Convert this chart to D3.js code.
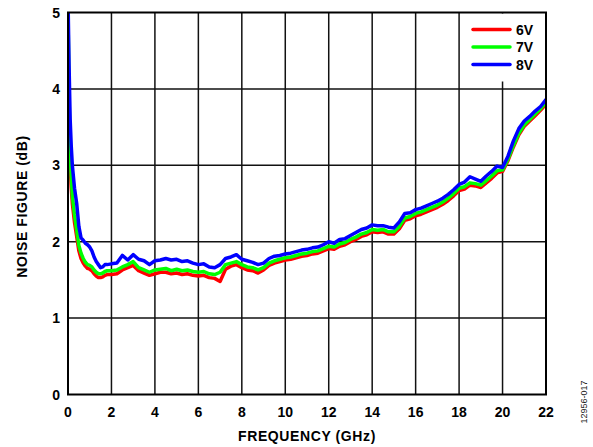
<!DOCTYPE html>
<html>
<head>
<meta charset="utf-8">
<script src="https://cdn.jsdelivr.net/npm/d3@7"></script>
<style>
  html, body { margin: 0; padding: 0; background: #fff; }
  svg { display: block; font-family: Arial, "Liberation Sans", sans-serif; }
</style>
</head>
<body>
<div id="chart"></div>
<script>
//DATA
const freqGHz = [
    0, 0.05, 0.1, 0.15, 0.2, 0.3, 0.4, 0.5, 0.6, 0.7, 0.8, 0.9, 1.0, 1.1, 1.2, 1.3, 1.4, 1.5, 1.6, 1.7, 1.8,
    2.0, 2.25, 2.5, 2.75, 3.0, 3.25, 3.5, 3.75, 4.0, 4.25, 4.5, 4.75, 5.0, 5.25, 5.5, 5.75,
    6.0, 6.25, 6.5, 6.75, 7.0, 7.25, 7.5, 7.75, 8.0, 8.25, 8.5, 8.75, 9.0, 9.25, 9.5, 9.75,
    10.0, 10.25, 10.5, 10.75, 11.0, 11.25, 11.5, 11.75, 12.0, 12.25, 12.5, 12.75, 13.0, 13.25, 13.5, 13.75,
    14.0, 14.25, 14.5, 14.75, 15.0, 15.25, 15.5, 15.75, 16.0, 16.25, 16.5, 16.75, 17.0, 17.25, 17.5, 17.75,
    18.0, 18.25, 18.5, 18.75, 19.0, 19.25, 19.5, 19.75, 20.0, 20.25, 20.5, 20.75, 21.0, 21.25, 21.5, 21.75, 22.0
];

const nf6V = [
    4.4, 3.5, 3.0, 2.7, 2.5, 2.25, 2.07, 1.88, 1.78, 1.72, 1.68, 1.65, 1.64, 1.62, 1.58, 1.55, 1.53, 1.53, 1.54, 1.56, 1.57,
    1.57, 1.58, 1.63, 1.66, 1.69, 1.62, 1.59, 1.56, 1.58, 1.60, 1.60, 1.58, 1.59, 1.57, 1.58, 1.56,
    1.55, 1.56, 1.53, 1.52, 1.48, 1.64, 1.68, 1.70, 1.66, 1.63, 1.62, 1.59, 1.63, 1.69, 1.72, 1.74,
    1.76, 1.77, 1.79, 1.81, 1.82, 1.84, 1.85, 1.88, 1.91, 1.90, 1.94, 1.96, 2.00, 2.03, 2.07, 2.09,
    2.13, 2.12, 2.13, 2.10, 2.10, 2.17, 2.28, 2.30, 2.34, 2.36, 2.39, 2.42, 2.45, 2.49, 2.54, 2.60,
    2.67, 2.69, 2.74, 2.73, 2.71, 2.77, 2.83, 2.90, 2.92, 3.06, 3.24, 3.40, 3.51, 3.58, 3.65, 3.72, 3.80
];

const nf7V = [
    5.0, 3.9, 3.15, 2.85, 2.6, 2.35, 2.15, 1.95, 1.85, 1.78, 1.73, 1.70, 1.69, 1.67, 1.63, 1.60, 1.58, 1.58, 1.59, 1.61, 1.62,
    1.62, 1.63, 1.67, 1.70, 1.74, 1.66, 1.63, 1.60, 1.63, 1.64, 1.65, 1.62, 1.64, 1.62, 1.63, 1.61,
    1.60, 1.61, 1.58, 1.57, 1.60, 1.70, 1.72, 1.74, 1.70, 1.67, 1.66, 1.63, 1.66, 1.72, 1.75, 1.77,
    1.79, 1.80, 1.82, 1.84, 1.85, 1.87, 1.88, 1.91, 1.94, 1.93, 1.97, 1.99, 2.03, 2.06, 2.10, 2.12,
    2.16, 2.15, 2.16, 2.13, 2.13, 2.20, 2.31, 2.33, 2.37, 2.39, 2.42, 2.45, 2.48, 2.52, 2.57, 2.63,
    2.70, 2.72, 2.77, 2.76, 2.74, 2.80, 2.86, 2.93, 2.94, 3.08, 3.26, 3.42, 3.53, 3.60, 3.67, 3.74, 3.83
];

const nf8V = [
    5.2, 4.3, 3.6, 3.25, 3.0, 2.7, 2.5, 2.2, 2.05, 2.02, 1.98, 1.96, 1.93, 1.88, 1.80, 1.74, 1.70, 1.66, 1.67, 1.70, 1.70,
    1.71, 1.72, 1.82, 1.76, 1.83, 1.77, 1.75, 1.70, 1.75, 1.76, 1.78, 1.76, 1.77, 1.74, 1.75, 1.72,
    1.70, 1.71, 1.67, 1.66, 1.70, 1.78, 1.80, 1.83, 1.77, 1.75, 1.73, 1.70, 1.72, 1.78, 1.81, 1.82,
    1.84, 1.85, 1.87, 1.89, 1.90, 1.92, 1.93, 1.96, 2.00, 1.98, 2.03, 2.04, 2.08, 2.12, 2.16, 2.18,
    2.22, 2.21, 2.21, 2.19, 2.18, 2.26, 2.37, 2.38, 2.42, 2.44, 2.47, 2.50, 2.53, 2.57, 2.62, 2.68,
    2.75, 2.78, 2.85, 2.82, 2.79, 2.86, 2.92, 2.99, 2.97, 3.12, 3.32, 3.48, 3.58, 3.64, 3.71, 3.77, 3.86
];

const seriesNames = ["6V", "7V", "8V"];
const seriesColors = ["#ff0000", "#00ff00", "#0000ff"];
const xTicks = [0, 2, 4, 6, 8, 10, 12, 14, 16, 18, 20, 22];
const yTicks = [0, 1, 2, 3, 4, 5];

//LAYOUT
const width = 593;
const height = 447;
const margin = { top: 12.5, right: 47, bottom: 52.5, left: 68 };
const plotW = width - margin.left - margin.right;
const plotH = height - margin.top - margin.bottom;

const svg = d3.select("#chart")
    .append("svg")
    .attr("width", width)
    .attr("height", height);

const x = d3.scaleLinear().domain([0, 22]).range([0, plotW]);
const y = d3.scaleLinear().domain([0, 5]).range([plotH, 0]);

const g = svg.append("g")
    .attr("transform", `translate(${margin.left},${margin.top})`);

//GRID
g.append("g")
    .selectAll("line")
    .data(xTicks.slice(1, -1))
    .enter()
    .append("line")
    .attr("x1", d => x(d)).attr("x2", d => x(d))
    .attr("y1", 0).attr("y2", plotH)
    .attr("stroke", "#111")
    .attr("stroke-width", 1.5);

g.append("g")
    .selectAll("line")
    .data(yTicks.slice(1, -1))
    .enter()
    .append("line")
    .attr("x1", 0).attr("x2", plotW)
    .attr("y1", d => y(d)).attr("y2", d => y(d))
    .attr("stroke", "#111")
    .attr("stroke-width", 1.5);

//LEGEND BOX (covers grid)
const legX = x(18) + 6;
g.append("rect")
    .attr("x", legX)
    .attr("y", 1)
    .attr("width", plotW - legX - 1)
    .attr("height", 68)
    .attr("fill", "#fff");

//LINES
g.append("clipPath")
    .attr("id", "clip")
    .append("rect")
    .attr("width", plotW)
    .attr("height", plotH);

const line = d3.line()
    .x((d, i) => x(freqGHz[i]))
    .y(d => y(d));

const allSeries = [nf6V, nf7V, nf8V];

g.append("g")
    .attr("clip-path", "url(#clip)")
    .selectAll("path")
    .data(allSeries)
    .enter()
    .append("path")
    .attr("d", line)
    .attr("fill", "none")
    .attr("stroke", (d, i) => seriesColors[i])
    .attr("stroke-width", 3.5)
    .attr("stroke-linejoin", "round")
    .attr("stroke-linecap", "round");

//FRAME
g.append("rect")
    .attr("width", plotW)
    .attr("height", plotH)
    .attr("fill", "none")
    .attr("stroke", "#000")
    .attr("stroke-width", 2);

//TICK LABELS
g.append("g")
    .selectAll("text")
    .data(xTicks)
    .enter()
    .append("text")
    .attr("x", d => x(d))
    .attr("y", plotH + 22)
    .attr("text-anchor", "middle")
    .attr("font-size", "14px")
    .attr("font-weight", "bold")
    .text(d => d);

g.append("g")
    .selectAll("text")
    .data(yTicks)
    .enter()
    .append("text")
    .attr("x", -8)
    .attr("y", d => y(d) + 5)
    .attr("text-anchor", "end")
    .attr("font-size", "14px")
    .attr("font-weight", "bold")
    .text(d => d);

//AXIS TITLES
svg.append("text")
    .attr("x", margin.left + plotW / 2)
    .attr("y", 441)
    .attr("text-anchor", "middle")
    .attr("font-size", "14px")
    .attr("font-weight", "bold")
    .attr("letter-spacing", "0.6px")
    .text("FREQUENCY (GHz)");

svg.append("text")
    .attr("transform", `translate(27,${margin.top + plotH / 2 + 3}) rotate(-90)`)
    .attr("text-anchor", "middle")
    .attr("font-size", "14px")
    .attr("font-weight", "bold")
    .attr("letter-spacing", "0.6px")
    .text("NOISE FIGURE (dB)");

svg.append("text")
    .attr("transform", "translate(587,402) rotate(-90)")
    .attr("text-anchor", "middle")
    .attr("font-size", "9px")
    .attr("fill", "#222")
    .text("12956-017");

//LEGEND
const leg = g.append("g")
    .selectAll("g")
    .data(seriesNames)
    .enter()
    .append("g")
    .attr("transform", (d, i) => `translate(0,${17 + i * 17.5})`);

leg.append("line")
    .attr("x1", 405).attr("x2", 442)
    .attr("stroke", (d, i) => seriesColors[i])
    .attr("stroke-width", 3.5)
    .attr("stroke-linecap", "round");

leg.append("text")
    .attr("x", 448)
    .attr("y", 5)
    .attr("font-size", "14px")
    .attr("font-weight", "bold")
    .text(d => d);
</script>
</body>
</html>
